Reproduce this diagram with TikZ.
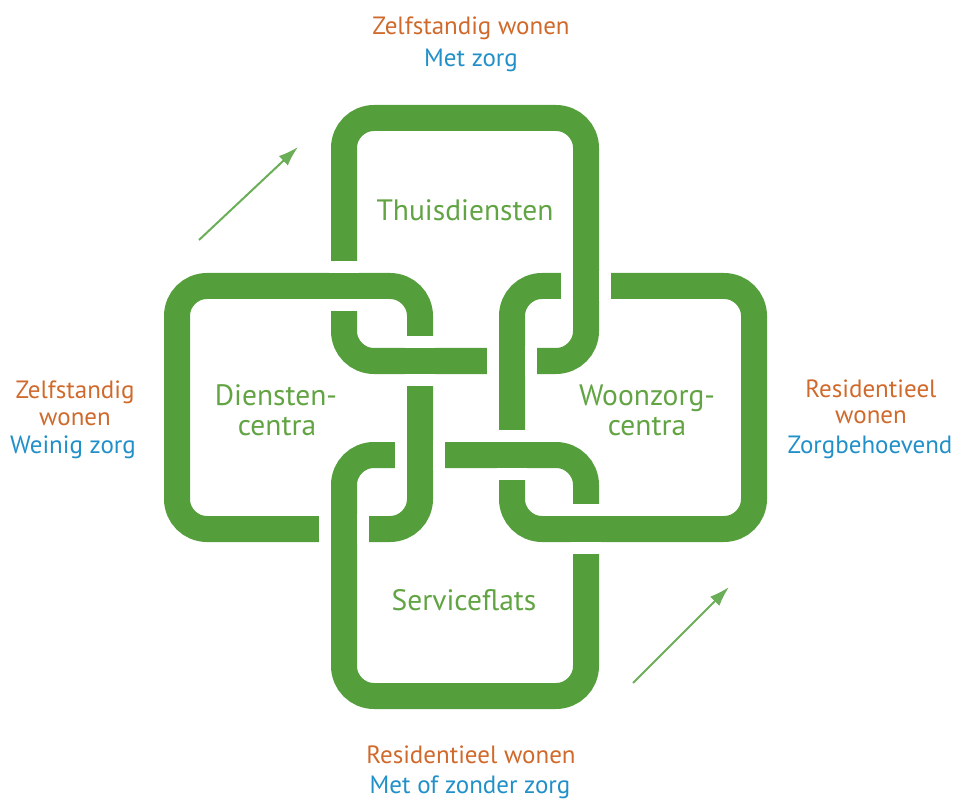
\documentclass[tikz,border=0pt]{standalone}
\usepackage{fontspec}
\setmainfont{PT Sans}
\usetikzlibrary{arrows.meta}
\definecolor{linkgreen}{HTML}{559E3C}
\definecolor{labgreen}{HTML}{62A443}
\definecolor{arrgreen}{HTML}{6BAE58}
\definecolor{orangetxt}{HTML}{D06A2C}
\definecolor{bluetxt}{HTML}{2290C8}
\newcommand\crossH[2]{%
  \fill[white] ({#1-15},{#2-25}) rectangle ({#1+15},{#2+25});
  \fill[linkgreen] ({#1-16},{#2-13}) rectangle ({#1+16},{#2+13});}
\newcommand\crossV[2]{%
  \fill[white] ({#1-25},{#2-15}) rectangle ({#1+25},{#2+15});
  \fill[linkgreen] ({#1-13},{#2-16}) rectangle ({#1+13},{#2+16});}
\begin{document}
\begin{tikzpicture}[x=1pt,y=-1pt,
  link/.style={draw=linkgreen,line width=26pt,rounded corners=30pt},
  inlab/.style={text=labgreen,font=\fontsize{29.5}{31}\selectfont,anchor=base,inner sep=0pt},
  orlab/.style={text=orangetxt,font=\fontsize{25}{27}\selectfont,anchor=base,inner sep=0pt},
  bllab/.style={text=bluetxt,font=\fontsize{25}{27}\selectfont,anchor=base,inner sep=0pt},
  trend/.style={draw=arrgreen,line width=2pt,-{Latex[length=20pt,width=13pt]}}]
\useasboundingbox (0,0) rectangle (958,799);
% links
\draw[link] (344,118) rectangle (586,361);
\draw[link] (177,286) rectangle (420,529);
\draw[link] (512,286) rectangle (754,529);
\draw[link] (344,455) rectangle (586,696);
% crossings: the link named first passes over
\crossH{344}{286}  % left over top
\crossH{420}{361}  % top over left
\crossV{586}{286}  % top over right
\crossV{512}{361}  % right over top
\crossV{420}{455}  % left over bottom
\crossV{344}{529}  % bottom over left
\crossH{512}{455}  % bottom over right
\crossH{586}{529}  % right over bottom
% inner labels
\node[inlab] (thuis) at (465,221) {Thuisdiensten};
\node[inlab] (dien1) at (276,405) {Diensten-};
\node[inlab] (dien2) at (277,435) {centra};
\node[inlab] (woon1) at (647,405) {Woonzorg-};
\node[inlab] (woon2) at (647,435) {centra};
\node[inlab] (serv) at (464,610) {Serviceflats};
% outer labels
\node[orlab] (t1) at (471,35) {Zelfstandig wonen};
\node[bllab] (t2) at (471,67) {Met zorg};
\node[orlab] (l1) at (75,398) {Zelfstandig};
\node[orlab] (l2) at (75,425) {wonen};
\node[bllab] (l3) at (73,453) {Weinig zorg};
\node[orlab] (r1) at (871,397) {Residentieel};
\node[orlab] (r2) at (871,423) {wonen};
\node[bllab] (r3) at (870,453) {Zorgbehoevend};
\node[orlab] (b1) at (471,763) {Residentieel wonen};
\node[bllab] (b2) at (470,793) {Met of zonder zorg};
% trend arrows
\coordinate (a1s) at (199,240);
\coordinate (a1e) at (298,147);
\coordinate (a2s) at (633,683);
\coordinate (a2e) at (729,587);
\draw[trend] (a1s) -- (a1e);
\draw[trend] (a2s) -- (a2e);
\end{tikzpicture}
\end{document}
